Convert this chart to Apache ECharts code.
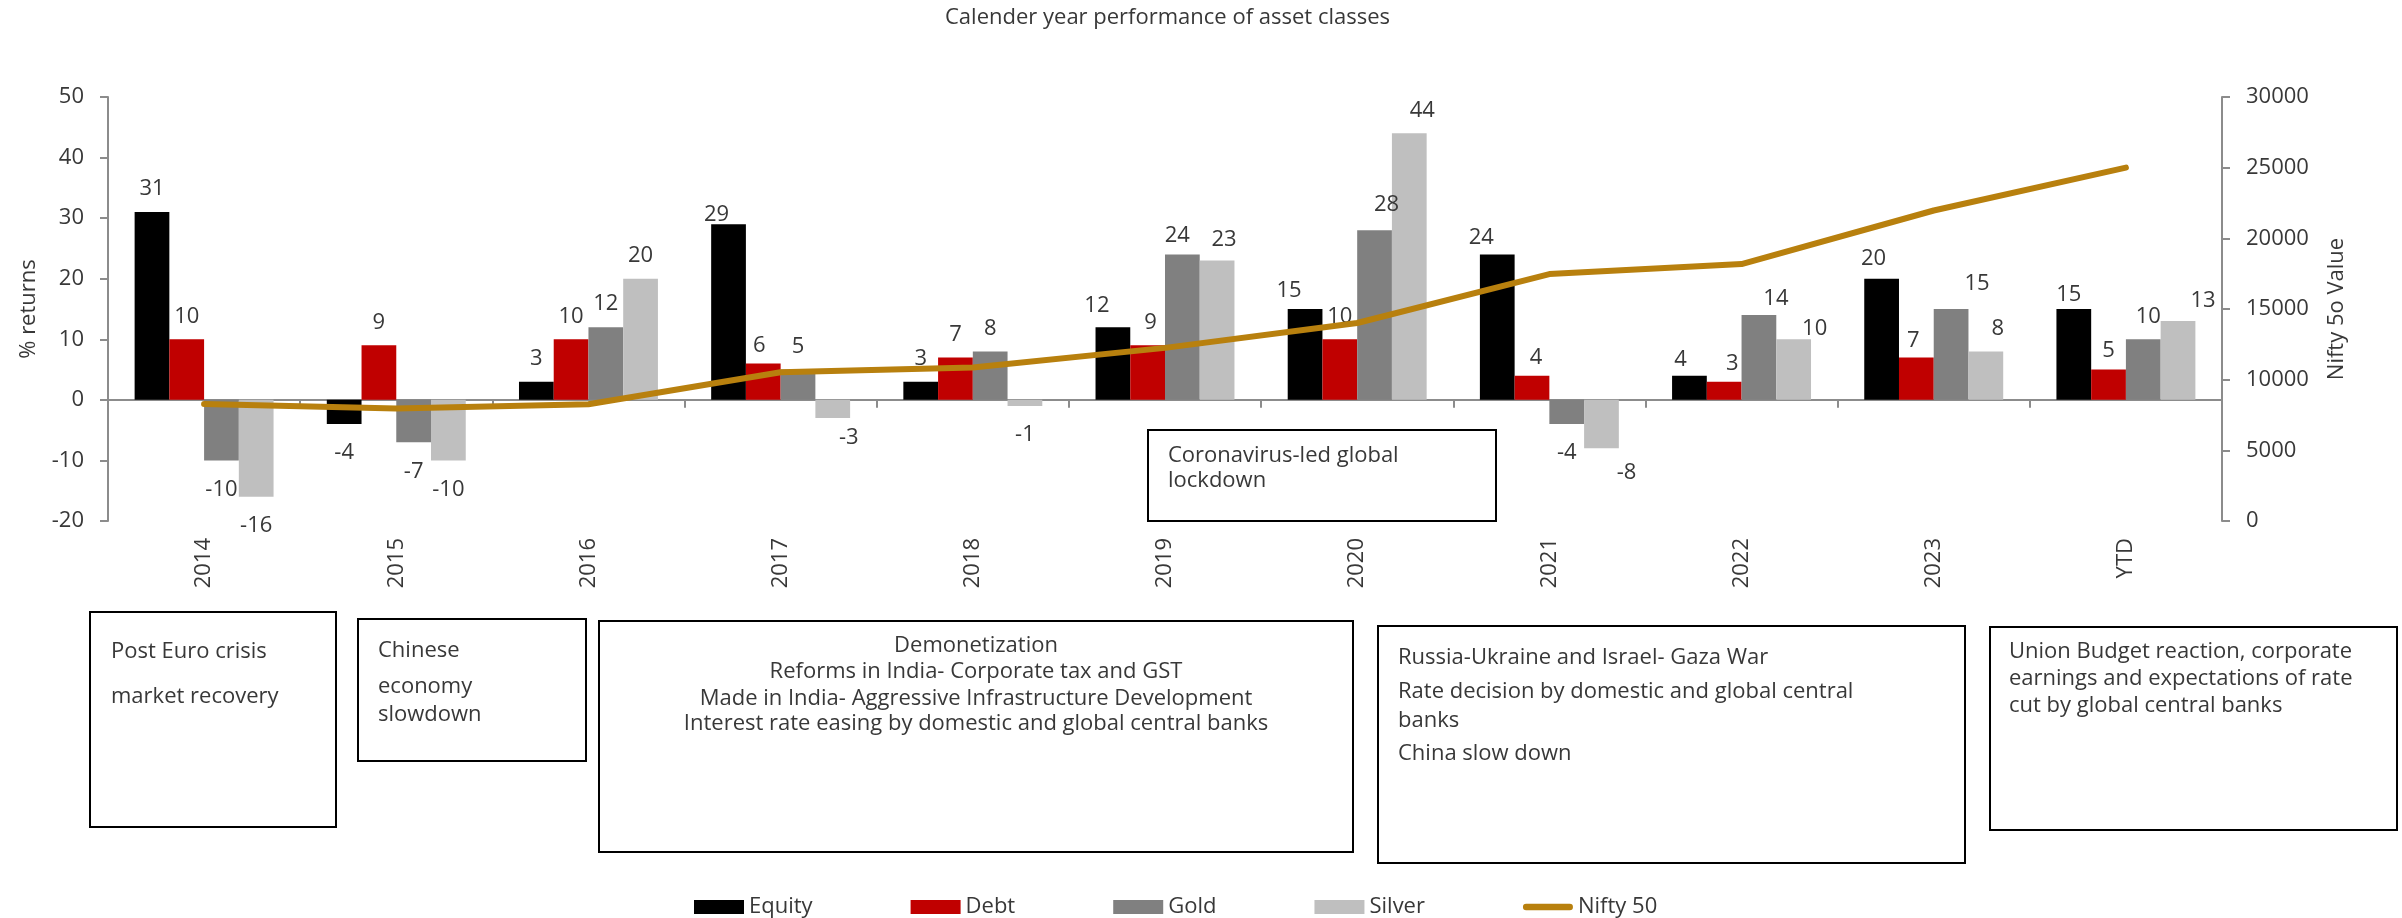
<!DOCTYPE html>
<html>
<head>
<meta charset="utf-8">
<title>Calender year performance of asset classes</title>
<script src="https://cdn.jsdelivr.net/npm/echarts@6/dist/echarts.min.js"></script>
<style>
  html, body { margin: 0; padding: 0; background: #ffffff; }
  #chart { width: 2402px; height: 918px; }
</style>
</head>
<body>
<div id="chart"></div>
<script>
// ---- data -------------------------------------------------------------
const categories = ['2014', '2015', '2016', '2017', '2018', '2019', '2020', '2021', '2022', '2023', 'YTD'];
const equity = [31, -4, 3, 29, 3, 12, 15, 24, 4, 20, 15];
const debt   = [10, 9, 10, 6, 7, 9, 10, 4, 3, 7, 5];
const gold   = [-10, -7, 12, 5, 8, 24, 28, -4, 14, 15, 10];
const silver = [-16, -10, 20, -3, -1, 23, 44, -8, 10, 8, 13];
const nifty  = [8280, 7960, 8260, 10530, 10860, 12250, 14010, 17470, 18180, 21970, 25000];

const returnTicks = { min: -20, max: 50, step: 10 };
const niftyTicks  = { min: 0, max: 30000, step: 5000 };

const notes = [
  ['Post Euro crisis', 'market recovery'],
  ['Chinese', 'economy', 'slowdown'],
  ['Demonetization', 'Reforms in India- Corporate tax and GST',
   'Made in India- Aggressive Infrastructure Development',
   'Interest rate easing by domestic and global central banks'],
  ['Russia-Ukraine and Israel- Gaza War', 'Rate decision by domestic and global central',
   'banks', 'China slow down'],
  ['Union Budget reaction, corporate', 'earnings and expectations of rate',
   'cut by global central banks'],
  ['Coronavirus-led global', 'lockdown']
];

// ---- styling / layout ----------------------------------------------------
const FONT = '"Open Sans", Lato, sans-serif';
const FS = 22;
const TEXT = '#383838';
const AXIS = '#8c8c8c';
const colors = { Equity: '#000000', Debt: '#c00000', Gold: '#808080', Silver: '#bfbfbf', Nifty: '#b8800e' };

// small hand nudges of individual value labels [dx, dy]
const labelNudge = {
  Equity: { 3: [-12, 14], 5: [-16, 2], 6: [-16, 5], 7: [-16, 6], 8: [-9, 7], 9: [-8, 3], 10: [-5, 9] },
  Debt:   { 3: [-4, 5], 5: [3, 0], 7: [4, 5], 8: [8, 5], 9: [-3, 6], 10: [0, 4] },
  Gold:   { 5: [-5, 4], 6: [12, -3], 8: [17, 7], 9: [26, -2], 10: [5, 0] },
  Silver: { 3: [16, -9], 5: [7, 2], 6: [13, 0], 7: [25, -5], 8: [21, 12], 9: [12, 0], 10: [25, 3] }
};

// annotation boxes: rectangle, text anchor x, alignment, baselines of each line
const noteLayout = [
  { x: 90,   y: 612, w: 246, h: 215, tx: 111,  align: 'left',   base: [658, 703] },
  { x: 358,  y: 619, w: 228, h: 142, tx: 378,  align: 'left',   base: [657, 693, 721] },
  { x: 599,  y: 621, w: 754, h: 231, tx: 976,  align: 'center', base: [652, 678, 705, 730] },
  { x: 1378, y: 626, w: 587, h: 237, tx: 1398, align: 'left',   base: [664, 698, 727, 760] },
  { x: 1990, y: 627, w: 407, h: 203, tx: 2009, align: 'left',   base: [658, 685, 712] },
  { x: 1148, y: 430, w: 348, h: 91,  tx: 1168, align: 'left',   base: [462, 487] }
];

// rounded bar used as the legend mark of the index line
const LINE_ICON = 'path://M3.5,0 L51.5,0 A3.5,3.5 0 0 1 51.5,7 L3.5,7 A3.5,3.5 0 0 1 3.5,0 Z';

function barSeries(name, values) {
  const nudge = labelNudge[name] || {};
  return {
    name: name,
    type: 'bar',
    xAxisIndex: 0,
    yAxisIndex: 0,
    barGap: '0%',
    barCategoryGap: '27.7%',
    itemStyle: { color: colors[name] },
    label: {
      show: true,
      fontFamily: FONT,
      fontSize: FS,
      color: TEXT
    },
    data: values.map(function (v, i) {
      const off = nudge[i] || [0, 0];
      return {
        value: v,
        label: {
          position: v < 0 ? 'bottom' : 'top',
          distance: v < 0 ? 18 : 12,
          offset: off
        }
      };
    })
  };
}

const graphics = [];
noteLayout.forEach(function (b, k) {
  graphics.push({
    type: 'rect',
    z: 100,
    shape: { x: b.x, y: b.y, width: b.w, height: b.h },
    style: { fill: '#ffffff', stroke: '#000000', lineWidth: 2 }
  });
  notes[k].forEach(function (line, j) {
    graphics.push({
      type: 'text',
      z: 101,
      x: b.tx,
      y: b.base[j] - 6.5,
      style: {
        text: line,
        font: FS + 'px ' + FONT,
        fill: TEXT,
        align: b.align,
        verticalAlign: 'middle'
      }
    });
  });
});

const chart = echarts.init(document.getElementById('chart'), null, { renderer: 'canvas' });
chart.setOption({
  animation: false,
  backgroundColor: '#ffffff',
  textStyle: { fontFamily: FONT },
  title: {
    text: 'Calender year performance of asset classes',
    left: 940,
    top: 2,
    textStyle: { fontFamily: FONT, fontSize: FS, fontWeight: 'normal', color: TEXT }
  },
  grid: { left: 108, right: 180, top: 97, bottom: 397, containLabel: false },
  legend: {
    left: 689,
    top: 891,
    itemWidth: 50,
    itemHeight: 14,
    itemGap: 98,
    textStyle: { fontFamily: FONT, fontSize: FS, color: TEXT },
    data: [
      { name: 'Equity', icon: 'rect' },
      { name: 'Debt', icon: 'rect' },
      { name: 'Gold', icon: 'rect' },
      { name: 'Silver', icon: 'rect' },
      { name: 'Nifty 50', icon: LINE_ICON, itemStyle: { color: colors.Nifty } }
    ]
  },
  xAxis: [
    {
      type: 'category',
      data: categories,
      position: 'bottom',
      axisLine: { show: true, onZero: true, onZeroAxisIndex: 0, lineStyle: { color: AXIS, width: 2 } },
      axisTick: { show: true, length: 8, lineStyle: { color: AXIS, width: 2 } },
      axisLabel: { show: false },
      splitLine: { show: false }
    },
    {
      type: 'category',
      data: categories,
      position: 'bottom',
      axisLine: { show: false, onZero: false },
      axisTick: { show: false },
      axisLabel: { show: true, rotate: 90, margin: 17, fontFamily: FONT, fontSize: FS, color: TEXT },
      splitLine: { show: false }
    }
  ],
  yAxis: [
    {
      type: 'value',
      position: 'left',
      min: returnTicks.min,
      max: returnTicks.max,
      interval: returnTicks.step,
      name: '% returns',
      nameLocation: 'middle',
      nameRotate: 90,
      nameGap: 68,
      nameTextStyle: { fontFamily: FONT, fontSize: FS, color: TEXT },
      axisLine: { show: true, lineStyle: { color: AXIS, width: 2 } },
      axisTick: { show: true, length: 8, lineStyle: { color: AXIS, width: 2 } },
      axisLabel: { margin: 24, fontFamily: FONT, fontSize: FS, color: TEXT },
      splitLine: { show: false }
    },
    {
      type: 'value',
      position: 'right',
      min: niftyTicks.min,
      max: niftyTicks.max,
      interval: niftyTicks.step,
      name: 'Nifty 5o Value',
      nameLocation: 'middle',
      nameRotate: 90,
      nameGap: 104,
      nameTextStyle: { fontFamily: FONT, fontSize: FS, color: TEXT },
      axisLine: { show: true, lineStyle: { color: AXIS, width: 2 } },
      axisTick: { show: true, length: 8, lineStyle: { color: AXIS, width: 2 } },
      axisLabel: {
        margin: 24, fontFamily: FONT, fontSize: FS, color: TEXT,
        formatter: function (v) { return String(v); }
      },
      splitLine: { show: false }
    }
  ],
  series: [
    barSeries('Equity', equity),
    barSeries('Debt', debt),
    barSeries('Gold', gold),
    barSeries('Silver', silver),
    {
      name: 'Nifty 50',
      type: 'line',
      xAxisIndex: 0,
      yAxisIndex: 1,
      data: nifty,
      symbol: 'none',
      showSymbol: false,
      z: 5,
      lineStyle: { color: colors.Nifty, width: 6, cap: 'round', join: 'round' },
      itemStyle: { color: colors.Nifty }
    }
  ],
  graphic: graphics
});
</script>
</body>
</html>
